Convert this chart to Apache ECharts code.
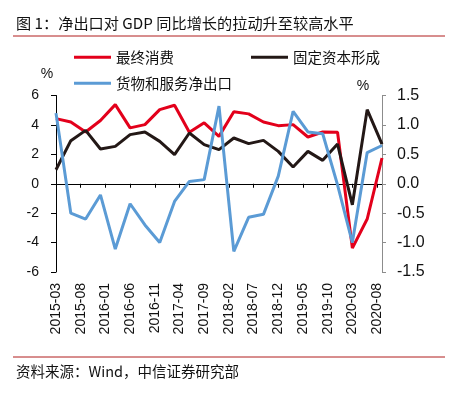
<!DOCTYPE html>
<html lang="zh-CN">
<head>
    <meta charset="utf-8">
    <title>净出口对 GDP 同比增长的拉动</title>
    <script src="https://cdn.jsdelivr.net/npm/echarts@6/dist/echarts.min.js"></script>
    <style>
        html, body { margin: 0; padding: 0; background: #fff; }
        #box { width: 461px; height: 398px; }
    </style>
</head>
<body>
<div id="box"></div>
<script>
    // 季度数据 2015Q1 - 2020Q3（单位：%）
    var quarters = ['2015-03', '2015-06', '2015-09', '2015-12', '2016-03', '2016-06', '2016-09', '2016-12',
        '2017-03', '2017-06', '2017-09', '2017-12', '2018-03', '2018-06', '2018-09', '2018-12',
        '2019-03', '2019-06', '2019-09', '2019-12', '2020-03', '2020-06', '2020-09'];
    // 最终消费（左轴）
    var consume = [4.43, 4.2, 3.52, 4.3, 5.38, 3.8, 4.02, 5.04, 5.34, 3.5, 4.14, 3.22,
        4.89, 4.75, 4.2, 3.95, 4.02, 3.18, 3.52, 3.5, -4.38, -2.4, 1.75];
    // 固定资本形成（左轴）
    var capital = [0.95, 2.93, 3.63, 2.36, 2.54, 3.34, 3.52, 2.88, 1.98, 3.45, 2.66, 2.32,
        3.11, 2.73, 2.95, 2.2, 1.14, 2.2, 1.59, 2.7, -1.43, 5.04, 2.7];
    // 货物和服务净出口（右轴）
    var netExport = [1.2, -0.5, -0.6, -0.19, -1.11, -0.34, -0.7, -1.0, -0.3, 0.04, 0.07, 1.32,
        -1.15, -0.57, -0.52, 0.13, 1.23, 0.88, 0.85, -0.02, -1.0, 0.53, 0.65];

    var leftTicks = { min: -6, max: 6, step: 2 };
    var rightTicks = { min: -1.5, max: 1.5, step: 0.5 };

    // 月度类目轴，每5个月一个标签
    var months = [];
    for (var y = 2015; y <= 2020; y++) {
        for (var m = 1; m <= 12; m++) {
            var s = y + '-' + (m < 10 ? '0' + m : m);
            if (s >= '2015-03' && s <= '2020-09') months.push(s);
        }
    }
    function toMonthly(vals) {
        return months.map(function (mo) {
            var i = quarters.indexOf(mo);
            return i === -1 ? null : vals[i];
        });
    }

    var cnFont = '"Noto Sans CJK SC", sans-serif';
    var numFont = '"Liberation Sans", Arial, sans-serif';
    var red = '#e3001b', black = '#231816', blue = '#5b9bd5';

    var myChart = echarts.init(document.getElementById('box'));

    function legendItem(name, color, left, top) {
        return {
            data: [name],
            left: left,
            top: top,
            icon: 'rect',
            itemWidth: 37,
            itemHeight: 3,
            textStyle: { fontFamily: cnFont, fontSize: 14.5, color: '#111' }
        };
    }

    var option = {
        backgroundColor: '#fff',
        animation: false,
        graphic: [
            { type: 'text', left: 16, top: 16, style: { text: '图 1：净出口对 GDP 同比增长的拉动升至较高水平', font: '15.2px ' + cnFont, fill: '#111' } },
            { type: 'line', shape: { x1: 13, y1: 36, x2: 445, y2: 36 }, style: { stroke: '#b01c1c', lineWidth: 1 } },
            { type: 'line', shape: { x1: 13, y1: 357, x2: 445, y2: 357 }, style: { stroke: '#b01c1c', lineWidth: 1 } },
            { type: 'text', left: 16, top: 364, style: { text: '资料来源：Wind，中信证券研究部', font: '14.5px ' + cnFont, fill: '#111' } },
            { type: 'text', x: 47, y: 74, style: { text: '%', font: '14px ' + numFont, fill: '#111', align: 'center', verticalAlign: 'middle' } },
            { type: 'text', x: 363, y: 86, style: { text: '%', font: '14px ' + numFont, fill: '#111', align: 'center', verticalAlign: 'middle' } }
        ],
        legend: [
            legendItem('最终消费', red, 69, 45),
            legendItem('固定资本形成', black, 246, 45),
            legendItem('货物和服务净出口', blue, 69, 71)
        ],
        grid: { left: 56, right: 79, top: 95.5, bottom: 126, containLabel: false },
        xAxis: [
            {
                type: 'category',
                data: months,
                boundaryGap: false,
                position: 'bottom',
                axisLine: { show: false, onZero: false },
                axisTick: { show: false },
                axisLabel: { interval: 4, rotate: 90, margin: 11, fontFamily: numFont, fontSize: 14, color: '#111' }
            },
            {
                type: 'category',
                data: months,
                boundaryGap: false,
                position: 'bottom',
                axisLine: { show: true, onZero: true, onZeroAxisIndex: 0, lineStyle: { color: '#000', width: 1 } },
                axisTick: { show: true, interval: 4, length: 4, lineStyle: { color: '#000' } },
                axisLabel: { show: false }
            }
        ],
        yAxis: [
            {
                type: 'value',
                min: leftTicks.min, max: leftTicks.max, interval: leftTicks.step,
                axisLine: { show: true, lineStyle: { color: '#000', width: 1 } },
                axisTick: { show: true, length: 5, lineStyle: { color: '#000' } },
                splitLine: { show: false },
                axisLabel: { margin: 17, fontFamily: numFont, fontSize: 14, color: '#111' }
            },
            {
                type: 'value',
                position: 'right',
                min: rightTicks.min, max: rightTicks.max, interval: rightTicks.step,
                axisLine: { show: true, lineStyle: { color: '#8c8c8c', width: 1 } },
                axisTick: { show: true, length: 4, lineStyle: { color: '#8c8c8c' } },
                splitLine: { show: false },
                axisLabel: {
                    margin: 15, fontFamily: numFont, fontSize: 16, color: '#111',
                    formatter: function (v) { return v.toFixed(1); }
                }
            }
        ],
        series: [
            {
                name: '最终消费', type: 'line', yAxisIndex: 0, xAxisIndex: 0,
                data: toMonthly(consume), connectNulls: true, showSymbol: false, symbol: 'none',
                lineStyle: { color: red, width: 3 }, itemStyle: { color: red }
            },
            {
                name: '固定资本形成', type: 'line', yAxisIndex: 0, xAxisIndex: 0,
                data: toMonthly(capital), connectNulls: true, showSymbol: false, symbol: 'none',
                lineStyle: { color: black, width: 3 }, itemStyle: { color: black }
            },
            {
                name: '货物和服务净出口', type: 'line', yAxisIndex: 1, xAxisIndex: 0,
                data: toMonthly(netExport), connectNulls: true, showSymbol: false, symbol: 'none',
                lineStyle: { color: blue, width: 3 }, itemStyle: { color: blue }
            }
        ]
    };
    myChart.setOption(option);
</script>
</body>
</html>
